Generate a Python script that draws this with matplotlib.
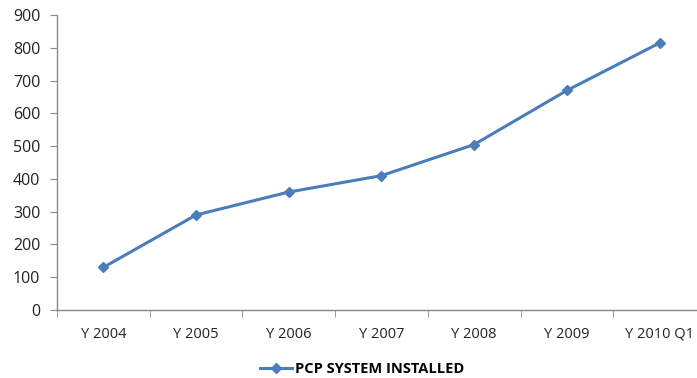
import matplotlib
matplotlib.use("Agg")
import matplotlib.pyplot as plt
import numpy as np

categories = ["Y 2004", "Y 2005", "Y 2006", "Y 2007", "Y 2008", "Y 2009", "Y 2010 Q1"]
pcp_installed = [130, 290, 360, 410, 505, 670, 815]
y_ticks = [0, 100, 200, 300, 400, 500, 600, 700, 800, 900]

plt.rcParams['font.family'] = ['Open Sans', 'DejaVu Sans']

fig = plt.figure(figsize=(6.97, 3.78), dpi=100)
ax = fig.add_axes([0.0818, 0.180, 0.931, 0.780])

x = np.arange(len(categories))
line_color = "#4a7ebb"
ax.plot(x, pcp_installed, color=line_color, linewidth=2.2, marker="D", markersize=5,
        label="PCP SYSTEM INSTALLED")

ax.set_xlim(-0.5, len(categories) - 0.5)
ax.set_ylim(0, 900)
ax.set_yticks(y_ticks)
ax.set_xticks(x)
ax.set_xticklabels(categories)
ax.set_xticks(np.arange(len(categories) + 1) - 0.5, minor=True)

for s in ["top", "right"]:
    ax.spines[s].set_visible(False)
for s in ["left", "bottom"]:
    ax.spines[s].set_color("#888888")
    ax.spines[s].set_linewidth(1.0)

ax.tick_params(axis="y", length=5, color="#888888", labelsize=11.5, labelcolor="#222222", pad=7)
ax.tick_params(axis="x", which="major", length=0, labelsize=10.5, labelcolor="#222222", pad=12)
ax.tick_params(axis="x", which="minor", length=5, color="#888888")

leg = fig.legend(loc="center", bbox_to_anchor=(0.52, 0.024), frameon=False,
                 prop={"weight": "bold", "size": 10.5}, handlelength=2.2, handletextpad=0.2)

fig.savefig("out.png", dpi=100)
